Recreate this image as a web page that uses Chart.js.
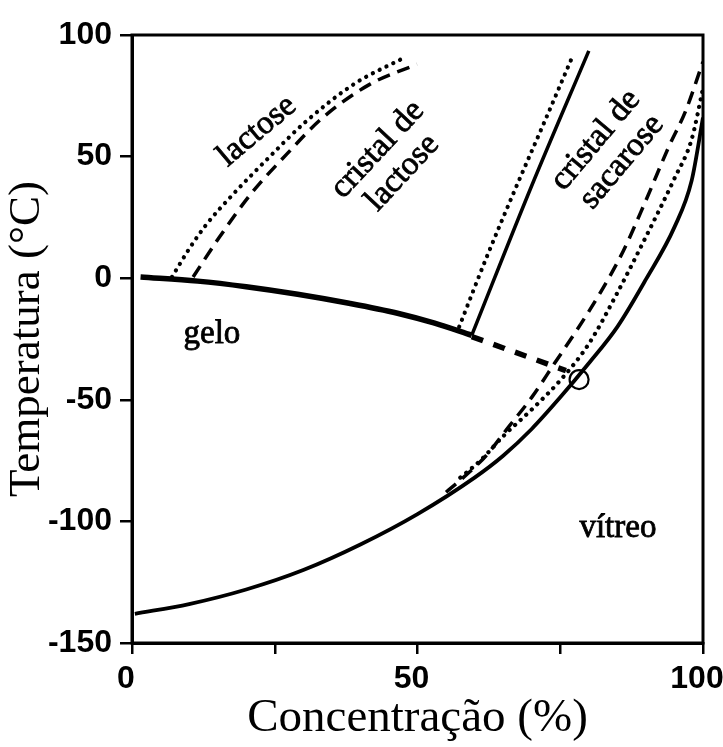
<!DOCTYPE html>
<html><head><meta charset="utf-8">
<script src="https://cdn.jsdelivr.net/npm/chart.js@4/dist/chart.umd.min.js"></script>
<style>html,body{margin:0;padding:0;background:#fff}</style>
</head><body>
<canvas id="c" width="723" height="747"></canvas>
<script>
// ---- data (concentration %, temperature °C) ----
const iceX = [1.5, 11.5, 20, 29, 38, 46.5, 53, 59.5];
const iceY = [0.5, -1.2, -3.5, -6.6, -10.3, -14.4, -18.5, -23.5];
const iceExtX = [59.5, 76];
const iceExtY = [-24, -38];
const tgX = [0.5, 10, 20, 30, 40, 50, 60, 65, 70, 75, 80, 85, 90, 95, 98, 100];
const tgY = [-138, -134, -128, -120, -109.5, -97, -82, -73, -62, -49, -35, -20, -0.5, 21, 40, 66];
const tgDotX = [57.5, 61, 65, 70, 75, 80, 85, 90, 95, 98, 100];
const tgDotY = [-82, -75, -65, -54, -42, -27, -6, 17, 41, 57, 78];
const tgDashX = [55, 58, 62, 66, 70, 74, 78, 82, 86, 90, 94, 97, 100];
const tgDashY = [-88, -82, -73, -61, -49, -35, -21, -6, 11, 32, 54, 69, 89];
const sucSolX = [57.3, 62, 67, 72, 77.3];
const sucSolY = [-20, 8, 36, 63, 92];
const sucCrysX = [59.5, 70, 80];
const sucCrysY = [-23.5, 38, 93.5];
const lacSolX = [7, 10, 13, 17.5, 23.5, 30.5, 39, 47.5];
const lacSolY = [0.5, 12, 22, 34, 48.5, 64.5, 80, 90.5];
const lacCrysX = [10.7, 15.2, 20.8, 27.1, 33.3, 41.7, 49.9];
const lacCrysY = [0.5, 16.5, 34.6, 51, 65.8, 79.8, 88];
const markX = [78.3];
const markY = [-41.7];
const xTickValues = [0, 25, 50, 75, 100];
const xTickLabels = [0, 50, 100];
const yTickValues = [-150, -100, -50, 0, 50, 100];
const xTitle = 'Concentração (%)';
const yTitle = 'Temperatura (°C)';
const regionTexts = [['lactose'], ['cristal de', 'lactose'], ['cristal de', 'sacarose'], ['gelo'], ['vítreo']];
const regionAt = [[21.9, 60.5, -40], [45.2, 48.1, -47], [83.5, 52.3, -50], [14, -23, 0], [85.1, -103, 0]];

const pts = (xs, ys) => xs.map((x, i) => ({x, y: ys[i]}));
const base = {showLine: true, pointRadius: 0, borderColor: '#000', backgroundColor: '#000', fill: false, cubicInterpolationMode: 'monotone'};
const dotted = {borderDash: [0.1, 7.5], borderCapStyle: 'round', borderWidth: 4.2};
const dashed = {borderDash: [13, 8], borderWidth: 3.5};

const datasets = [
  {...base, data: pts(iceX, iceY), borderWidth: 5.5},
  {...base, data: pts(iceExtX, iceExtY), borderWidth: 5.5, borderDash: [12, 11]},
  {...base, data: pts(tgX, tgY), borderWidth: 3.8},
  {...base, ...dotted, data: pts(tgDotX, tgDotY)},
  {...base, ...dashed, data: pts(tgDashX, tgDashY)},
  {...base, ...dotted, data: pts(sucSolX, sucSolY)},
  {...base, data: pts(sucCrysX, sucCrysY), borderWidth: 3.5},
  {...base, ...dotted, data: pts(lacSolX, lacSolY)},
  {...base, ...dashed, data: pts(lacCrysX, lacCrysY)},
  {data: pts(markX, markY), showLine: false, pointRadius: 9.5, pointBorderWidth: 2.2, pointBorderColor: '#000', pointBackgroundColor: 'rgba(0,0,0,0)', pointStyle: 'circle'}
];

const framePlugin = {
  id: 'frame',
  afterDatasetsDraw(chart) {
    const {ctx, chartArea: a, scales} = chart;
    ctx.save();
    ctx.strokeStyle = '#000';
    ctx.lineWidth = 3;
    ctx.strokeRect(a.left, a.top, a.right - a.left, a.bottom - a.top);
    ctx.fillStyle = '#000';
    ctx.font = '33px "Liberation Serif", "Times New Roman", serif';
    ctx.textAlign = 'center';
    ctx.textBaseline = 'middle';
    ctx.lineWidth = 0.8;
    regionTexts.forEach((lines, i) => {
      const [dx, dy, rot] = regionAt[i];
      const px = scales.x.getPixelForValue(dx), py = scales.y.getPixelForValue(dy);
      ctx.save();
      ctx.translate(px, py);
      ctx.rotate(rot * Math.PI / 180);
      const lh = 34;
      lines.forEach((t, k) => {
        const yy = (k - (lines.length - 1) / 2) * lh;
        ctx.fillText(t, 0, yy);
        ctx.strokeText(t, 0, yy);
      });
      ctx.restore();
    });
    ctx.restore();
  }
};

new Chart(document.getElementById('c'), {
  type: 'scatter',
  data: {datasets},
  options: {
    responsive: false,
    animation: false,
    devicePixelRatio: 1,
    layout: {padding: {top: 35, right: 20, left: 0, bottom: 0}},
    plugins: {legend: {display: false}, tooltip: {enabled: false}},
    scales: {
      x: {
        type: 'linear', min: 0, max: 100,
        afterBuildTicks: s => { s.ticks = xTickValues.map(v => ({value: v})); },
        afterFit: s => { s.height = 104; s.paddingLeft = 0; s.paddingRight = 0; },
        border: {color: '#000', width: 3},
        grid: {drawOnChartArea: false, drawTicks: true, tickLength: 11, color: '#000', lineWidth: 2.5},
        ticks: {color: '#000', padding: 6, maxRotation: 0, autoSkip: false, labelOffset: -6,
          font: {family: '"Liberation Sans", Arial, sans-serif', size: 32, weight: 'bold'},
          callback: v => xTickLabels.includes(v) ? String(v) : ''},
        title: {display: true, text: xTitle, color: '#000', padding: {top: 0, bottom: 0},
          font: {family: '"Liberation Serif", "Times New Roman", serif', size: 47}}
      },
      y: {
        type: 'linear', min: -150, max: 100,
        afterBuildTicks: s => { s.ticks = yTickValues.map(v => ({value: v})); },
        afterFit: s => { s.width = 132; },
        border: {color: '#000', width: 3},
        grid: {drawOnChartArea: false, drawTicks: true, tickLength: 12, color: '#000', lineWidth: 2.5},
        ticks: {color: '#000', padding: 8,
          font: {family: '"Liberation Sans", Arial, sans-serif', size: 32, weight: 'bold'}},
        title: {display: true, text: yTitle, color: '#000', padding: {top: 0, bottom: 0},
          font: {family: '"Liberation Serif", "Times New Roman", serif', size: 45}}
      }
    }
  },
  plugins: [framePlugin]
});
</script>
</body></html>
